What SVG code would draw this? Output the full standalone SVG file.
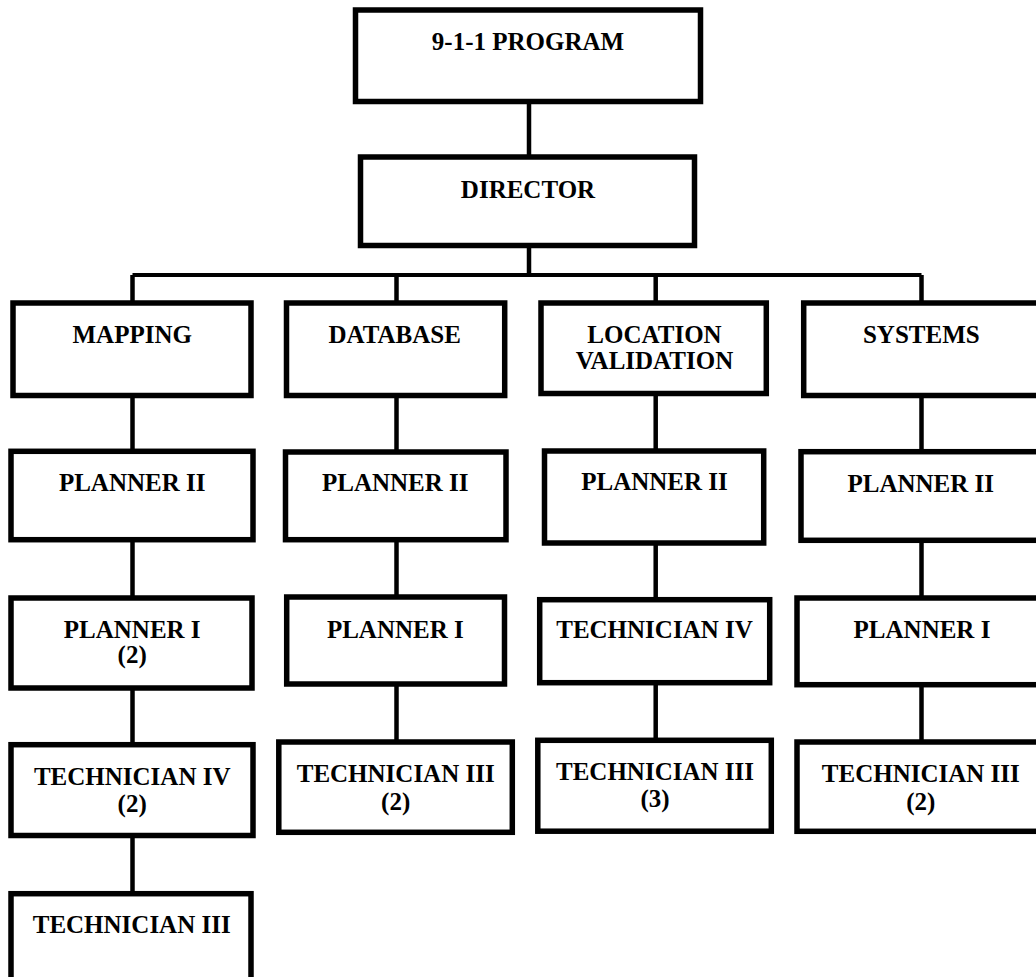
<svg xmlns="http://www.w3.org/2000/svg" width="1036" height="977" viewBox="0 0 1036 977">
<style>
.box{fill:#fff;stroke:#000;stroke-width:5.5}
.t{font-family:"Liberation Serif","Times New Roman",serif;font-weight:bold;font-size:25px;text-anchor:middle;fill:#000}
.c{stroke:#000;stroke-width:4.5;fill:none}
.bus{stroke:#000;stroke-width:4;fill:none}
</style>
<rect width="1036" height="977" fill="#fff"/>
<g id="connectors">
<line class="c" x1="529" y1="101" x2="529" y2="157"/>
<line class="c" x1="529" y1="245" x2="529" y2="275"/>
<line class="bus" x1="132.5" y1="275" x2="921.5" y2="275"/>
<line class="c" x1="132.5" y1="275" x2="132.5" y2="303"/>
<line class="c" x1="396.5" y1="275" x2="396.5" y2="303"/>
<line class="c" x1="655.7" y1="275" x2="655.7" y2="303"/>
<line class="c" x1="921.5" y1="275" x2="921.5" y2="303"/>
<line class="c" x1="132.5" y1="395.5" x2="132.5" y2="451.3"/>
<line class="c" x1="132.5" y1="539.7" x2="132.5" y2="598"/>
<line class="c" x1="132.5" y1="688" x2="132.5" y2="744.7"/>
<line class="c" x1="132.5" y1="835.5" x2="132.5" y2="893.7"/>
<line class="c" x1="396.5" y1="395.5" x2="396.5" y2="452"/>
<line class="c" x1="396.5" y1="539.7" x2="396.5" y2="597"/>
<line class="c" x1="396.5" y1="684" x2="396.5" y2="742"/>
<line class="c" x1="655.7" y1="393.5" x2="655.7" y2="451"/>
<line class="c" x1="655.7" y1="543" x2="655.7" y2="599.7"/>
<line class="c" x1="655.7" y1="682.7" x2="655.7" y2="740.3"/>
<line class="c" x1="921.5" y1="395.5" x2="921.5" y2="451.7"/>
<line class="c" x1="921.5" y1="540.3" x2="921.5" y2="598"/>
<line class="c" x1="921.5" y1="684.7" x2="921.5" y2="742"/>
</g>
<g id="program"><rect class="box" x="355.5" y="10" width="345" height="91.5"/><text class="t" x="528" y="50">9-1-1 PROGRAM</text></g>
<g id="director"><rect class="box" x="360.5" y="157" width="334" height="88.5"/><text class="t" x="528" y="198.3">DIRECTOR</text></g>

<g id="mapping"><rect class="box" x="13" y="303" width="238" height="92.5"/><text class="t" x="132.2" y="342.7">MAPPING</text></g>
<g id="map-planner2"><rect class="box" x="11" y="451.3" width="242" height="88.4"/><text class="t" x="132.2" y="491">PLANNER II</text></g>
<g id="map-planner1"><rect class="box" x="11" y="598" width="241" height="90"/><text class="t" x="132.2" y="637.7">PLANNER I</text><text class="t" x="132.2" y="663.3">(2)</text></g>
<g id="map-tech4"><rect class="box" x="11" y="744.7" width="242" height="90.8"/><text class="t" x="132.2" y="785">TECHNICIAN IV</text><text class="t" x="132.2" y="811.7">(2)</text></g>
<g id="map-tech3"><rect class="box" x="11" y="893.7" width="240" height="95"/><text class="t" x="131.7" y="933">TECHNICIAN III</text></g>

<g id="database"><rect class="box" x="286.5" y="303" width="218.2" height="92.5"/><text class="t" x="394.7" y="342.7">DATABASE</text></g>
<g id="db-planner2"><rect class="box" x="285.5" y="452" width="220.5" height="87.7"/><text class="t" x="395.3" y="491">PLANNER II</text></g>
<g id="db-planner1"><rect class="box" x="286.7" y="597" width="217.8" height="87"/><text class="t" x="395.3" y="637.7">PLANNER I</text></g>
<g id="db-tech3"><rect class="box" x="278.8" y="742" width="233.5" height="90.3"/><text class="t" x="395.7" y="781.7">TECHNICIAN III</text><text class="t" x="395.7" y="810">(2)</text></g>

<g id="location"><rect class="box" x="541" y="303" width="225.3" height="90.5"/><text class="t" x="654.5" y="343.3">LOCATION</text><text class="t" x="654.5" y="369.3">VALIDATION</text></g>
<g id="loc-planner2"><rect class="box" x="544.5" y="451" width="219.2" height="92"/><text class="t" x="654.5" y="490">PLANNER II</text></g>
<g id="loc-tech4"><rect class="box" x="539.7" y="599.7" width="230" height="83"/><text class="t" x="654.5" y="638.3">TECHNICIAN IV</text></g>
<g id="loc-tech3"><rect class="box" x="537.8" y="740.3" width="233.5" height="90.9"/><text class="t" x="655" y="780">TECHNICIAN III</text><text class="t" x="655" y="807.3">(3)</text></g>

<g id="systems"><rect class="box" x="803.7" y="303" width="235.3" height="92.5"/><text class="t" x="921.3" y="342.7">SYSTEMS</text></g>
<g id="sys-planner2"><rect class="box" x="801" y="451.7" width="238" height="88.6"/><text class="t" x="920.8" y="491.7">PLANNER II</text></g>
<g id="sys-planner1"><rect class="box" x="797" y="598" width="242" height="86.7"/><text class="t" x="922" y="637.7">PLANNER I</text></g>
<g id="sys-tech3"><rect class="box" x="797" y="742" width="242" height="89.3"/><text class="t" x="920.8" y="781.7">TECHNICIAN III</text><text class="t" x="920.8" y="810">(2)</text></g>
</svg>
